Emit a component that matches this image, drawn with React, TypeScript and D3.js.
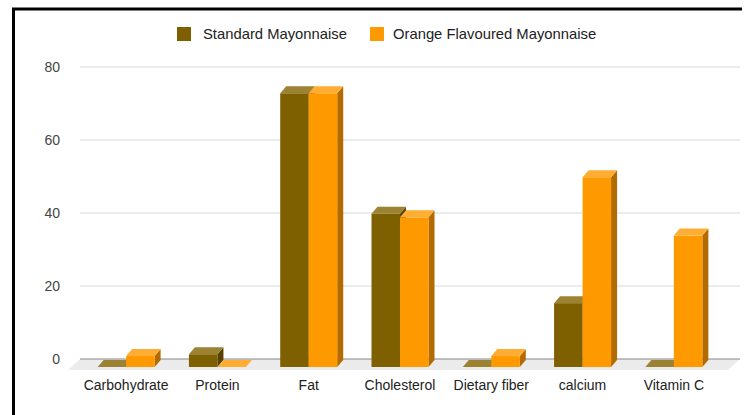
import React from "react";
import * as d3 from "d3";

const categories = ["Carbohydrate", "Protein", "Fat", "Cholesterol", "Dietary fiber", "calcium", "Vitamin C"];
const standard = [0, 3.5, 75, 42, 0, 17.5, 0];
const orange = [3, 0, 75, 41, 3, 52, 36];
const seriesNames = ["Standard Mayonnaise", "Orange Flavoured Mayonnaise"];
const yTicks = [0, 20, 40, 60, 80];

const W = 751, H = 415;
const DX = 6, DY = 7; // bar depth offset
const FDX = 12, FDY = 11; // floor depth

const colors = [
  { front: "#7f6000", side: "#574200", top: "#9c8233" },
  { front: "#ff9900", side: "#b36b00", top: "#ffad33" },
];

export default function App() {
  const y = d3.scaleLinear().domain([0, 80]).range([359, 67]);
  const x = d3.scaleBand().domain(categories).range([80.5, 719.5]).paddingInner(0).paddingOuter(0);
  const barW = 28.5;
  const font = "Arial, 'Liberation Sans', sans-serif";
  const data = [standard, orange];

  const bars: React.ReactNode[] = [];
  categories.forEach((c, i) => {
    const cx = (x(c) as number) + x.bandwidth() / 2;
    data.forEach((series, s) => {
      const v = series[i];
      const x0 = cx - barW + s * barW;
      const x1 = x0 + barW;
      const yb = y(0) + 8; // front bottom
      const yt = y(v) + 8; // front top
      const col = colors[s];
      bars.push(
        <g key={c + s}>
          <polygon points={`${x1},${yb} ${x1 + DX},${yb - DY} ${x1 + DX},${yt - DY} ${x1},${yt}`} fill={col.side} />
          <rect x={x0} y={yt} width={barW} height={Math.max(0, yb - yt)} fill={col.front} />
          <polygon points={`${x0},${yt} ${x0 + DX},${yt - DY} ${x1 + DX},${yt - DY} ${x1},${yt}`} fill={col.top} />
        </g>
      );
    });
  });

  return (
    <svg width={W} height={H} style={{ position: "absolute", left: 0, top: 0, background: "#fff" }} fontFamily={font}>
      <rect x={0} y={0} width={W} height={H} fill="#fff" />
      {yTicks.filter((t) => t > 0).map((t) => (
        <line key={t} x1={80} x2={740} y1={y(t)} y2={y(t)} stroke="#d9d9d9" strokeWidth={1} />
      ))}
      <polygon points={`${80},${y(0)} ${740},${y(0)} ${740 - FDX},${y(0) + FDY} ${80 - FDX},${y(0) + FDY}`} fill="#ebebeb" />
      <line x1={80} x2={740} y1={y(0)} y2={y(0)} stroke="#888" strokeWidth={1.2} />
      {yTicks.map((t) => (
        <text key={t} x={60} y={y(t) + 5} textAnchor="end" fontSize={14} fill="#444">{t}</text>
      ))}
      {bars}
      {categories.map((c) => (
        <text key={c} x={(x(c) as number) + x.bandwidth() / 2} y={390} textAnchor="middle" fontSize={14} fill="#222">{c}</text>
      ))}
      <g>
        <rect x={177} y={27} width={14} height={14} fill={colors[0].front} />
        <text x={203} y={39} fontSize={14.8} fill="#222">{seriesNames[0]}</text>
        <rect x={370} y={27} width={14} height={14} fill={colors[1].front} />
        <text x={393} y={39} fontSize={14.8} fill="#222">{seriesNames[1]}</text>
      </g>
      <path d="M13.5,415 L13.5,9 L742,9" fill="none" stroke="#000" strokeWidth={3} />
    </svg>
  );
}
